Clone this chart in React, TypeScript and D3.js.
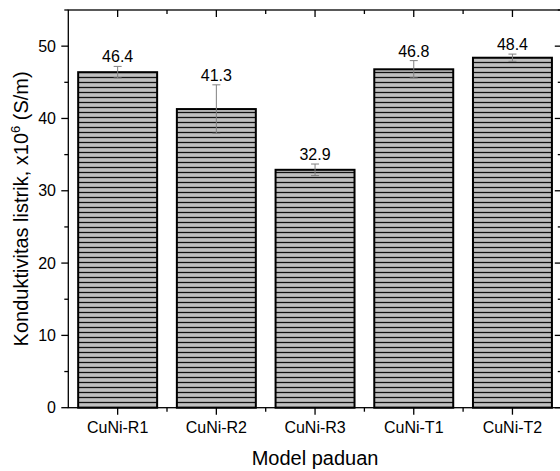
import React from 'react';
import * as d3 from 'd3';

const categories = ['CuNi-R1', 'CuNi-R2', 'CuNi-R3', 'CuNi-T1', 'CuNi-T2'];
const values = [46.4, 41.3, 32.9, 46.8, 48.4];
const errors = [0.8, 3.35, 0.8, 1.2, 0.5];
const yMajorTicks = [0, 10, 20, 30, 40, 50];
const yMinorTicks = [5, 15, 25, 35, 45, 55];

const W = 560;
const H = 471;
const left = 68.3;
const right = 561.8;
const top = 10;
const bottom = 407.7;
const FONT = '"Liberation Sans", Arial, sans-serif';

const App: React.FC = () => {
  const x = d3.scaleLinear().domain([0.5, categories.length + 0.5]).range([left, right]);
  const y = d3.scaleLinear().domain([0, 55]).range([bottom, top]);

  const xMajor = categories.map((_, i) => i + 1);
  const xMinor = d3.range(1.5, categories.length, 1);
  const barW = x(1.4) - x(0.6);

  return (
    <svg
      width={W}
      height={H}
      style={{ position: 'absolute', left: 0, top: 0, background: '#fff' }}
      fontFamily={FONT}
    >
      <defs>
        <pattern id="hatch" patternUnits="userSpaceOnUse" width={10} height={5}>
          <rect width={10} height={5} fill="#c0c0c0" />
          <line x1={0} x2={10} y1={2.5} y2={2.5} stroke="#111" strokeWidth={1.3} />
        </pattern>
      </defs>

      {/* bars */}
      {values.map((v, i) => (
        <rect
          key={categories[i]}
          x={x(i + 1) - barW / 2}
          y={y(v)}
          width={barW}
          height={y(0) - y(v)}
          fill="url(#hatch)"
          stroke="#000"
          strokeWidth={2}
        />
      ))}

      {/* error bars */}
      {values.map((v, i) => {
        const cx = x(i + 1);
        const hi = y(v + errors[i]);
        const lo = y(v - errors[i]);
        return (
          <g key={'e' + i} stroke="#808080" strokeWidth={1}>
            <line x1={cx} x2={cx} y1={hi} y2={lo} />
            <line x1={cx - 4} x2={cx + 4} y1={hi} y2={hi} />
            <line x1={cx - 4} x2={cx + 4} y1={lo} y2={lo} />
          </g>
        );
      })}

      {/* value labels */}
      {values.map((v, i) => (
        <text
          key={'l' + i}
          x={x(i + 1)}
          y={y(v + errors[i]) - 4}
          textAnchor="middle"
          fontSize={16}
          fill="#000"
        >
          {v.toFixed(1)}
        </text>
      ))}

      {/* frame */}
      <rect x={left} y={top} width={right - left} height={bottom - top} fill="none" stroke="#000" strokeWidth={1.3} />

      {/* x ticks: bottom outward, top inward */}
      {xMajor.map(t => (
        <g key={'xt' + t} stroke="#000" strokeWidth={1.3}>
          <line x1={x(t)} x2={x(t)} y1={bottom} y2={bottom + 7} />
          <line x1={x(t)} x2={x(t)} y1={top} y2={top + 7} />
        </g>
      ))}
      {xMinor.map(t => (
        <g key={'xm' + t} stroke="#000" strokeWidth={1.3}>
          <line x1={x(t)} x2={x(t)} y1={bottom} y2={bottom + 4} />
          <line x1={x(t)} x2={x(t)} y1={top} y2={top + 4} />
        </g>
      ))}
      {categories.map((c, i) => (
        <text key={c} x={x(i + 1)} y={433} textAnchor="middle" fontSize={16} fill="#000">
          {c}
        </text>
      ))}

      {/* y ticks: left outward, right inward */}
      {yMajorTicks.map(t => (
        <g key={'yt' + t} stroke="#000" strokeWidth={1.3}>
          <line x1={left - 7} x2={left} y1={y(t)} y2={y(t)} />
          <line x1={right - 7} x2={right} y1={y(t)} y2={y(t)} />
        </g>
      ))}
      {yMinorTicks.map(t => (
        <g key={'ym' + t} stroke="#000" strokeWidth={1.3}>
          <line x1={left - 4} x2={left} y1={y(t)} y2={y(t)} />
          <line x1={right - 4} x2={right} y1={y(t)} y2={y(t)} />
        </g>
      ))}
      {yMajorTicks.map(t => (
        <text key={'yl' + t} x={56} y={y(t)} dy="0.35em" textAnchor="end" fontSize={16} fill="#000">
          {t}
        </text>
      ))}

      {/* axis titles */}
      <text x={(left + right) / 2} y={465} textAnchor="middle" fontSize={20} fill="#000">
        Model paduan
      </text>
      <text
        transform={`translate(28,${(top + bottom) / 2}) rotate(-90)`}
        textAnchor="middle"
        fontSize={20}
        fill="#000"
      >
        Konduktivitas listrik, x10
        <tspan dy={-8} fontSize={13}>6</tspan>
        <tspan dy={8}> (S/m)</tspan>
      </text>
    </svg>
  );
};

export default App;
